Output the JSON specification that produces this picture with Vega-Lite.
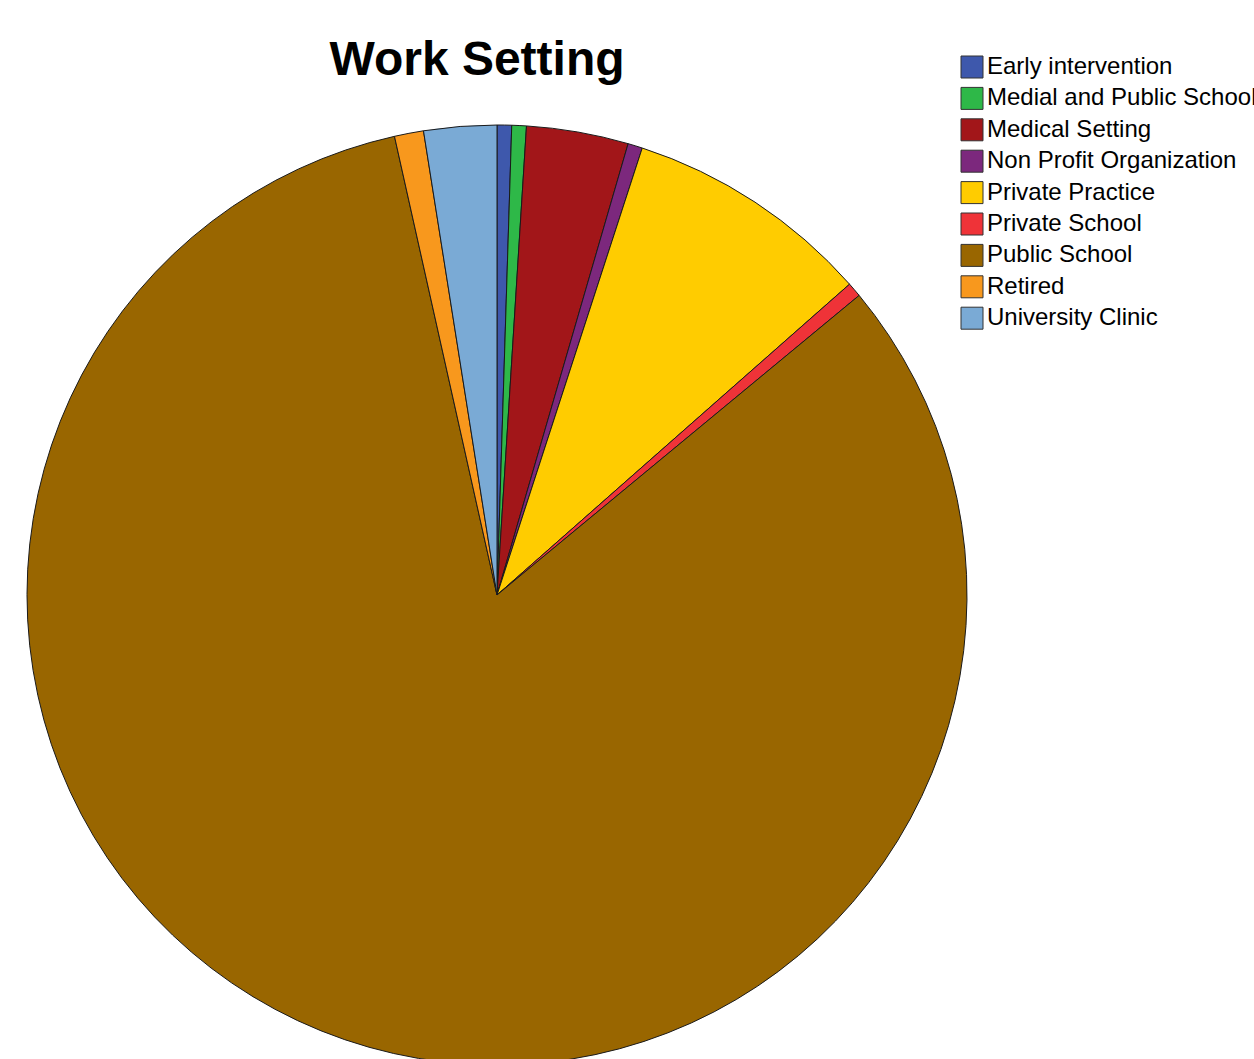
{
  "$schema": "https://vega.github.io/schema/vega-lite/v6.json",
  "autosize": "none",
  "width": 994,
  "height": 990,
  "padding": {"left": 0, "top": 100, "right": 260, "bottom": 0},
  "background": "white",
  "title": {
    "text": "Work Setting",
    "font": "Liberation Sans",
    "fontSize": 48,
    "fontWeight": "bold",
    "color": "#000000",
    "anchor": "middle",
    "frame": "group",
    "dx": -20,
    "baseline": "alphabetic",
    "offset": 0,
    "dy": 68
  },
  "data": {
    "values": [
      {"setting": "Early intervention", "count": 1},
      {"setting": "Medial and Public School", "count": 1},
      {"setting": "Medical Setting", "count": 7},
      {"setting": "Non Profit Organization", "count": 1},
      {"setting": "Private Practice", "count": 17},
      {"setting": "Private School", "count": 1},
      {"setting": "Public School", "count": 165},
      {"setting": "Retired", "count": 2},
      {"setting": "University Clinic", "count": 5}
    ]
  },
  "mark": {"type": "arc", "outerRadius": 470, "stroke": "#1a1a1a", "strokeWidth": 1},
  "encoding": {
    "theta": {"field": "count", "type": "quantitative", "stack": true},
    "order": {"field": "setting", "type": "nominal", "sort": "ascending"},
    "color": {
      "field": "setting",
      "type": "nominal",
      "scale": {
        "domain": ["Early intervention", "Medial and Public School", "Medical Setting", "Non Profit Organization", "Private Practice", "Private School", "Public School", "Retired", "University Clinic"],
        "range": ["#3E58AC", "#2EB848", "#A21619", "#7C287D", "#FFCC00", "#EF3338", "#996600", "#F8981D", "#7AAAD5"]
      },
      "legend": {
        "title": null,
        "orient": "none",
        "legendX": 960,
        "legendY": -45,
        "symbolType": "square",
        "symbolSize": 484,
        "symbolStrokeColor": "#333333",
        "symbolStrokeWidth": 1,
        "symbolOpacity": 1,
        "labelFont": "Liberation Sans",
        "labelFontSize": 24,
        "labelColor": "#000000",
        "labelOffset": 3,
        "labelLimit": 400,
        "rowPadding": 5.4
      }
    }
  }
}
